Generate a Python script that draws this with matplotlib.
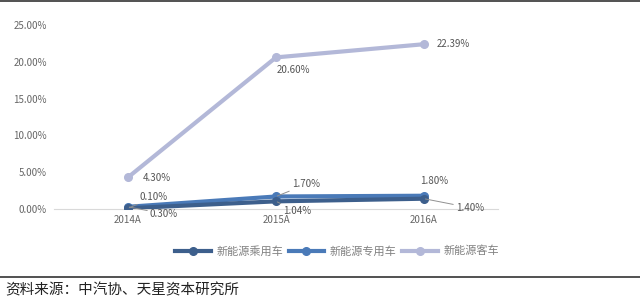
import matplotlib
matplotlib.use("Agg")
import matplotlib.pyplot as plt
from matplotlib.ticker import FuncFormatter
from matplotlib.lines import Line2D

plt.rcParams['font.family'] = ['Noto Sans CJK SC', 'DejaVu Sans']

categories = ["2014A", "2015A", "2016A"]
series_names = ["新能源乘用车", "新能源专用车", "新能源客车"]
passenger = [0.10, 1.04, 1.40]
special = [0.30, 1.70, 1.80]
bus = [4.30, 20.60, 22.39]
y_ticks = [0, 5, 10, 15, 20, 25]

colors = ["#3d5f8c", "#4a7ab8", "#b3b8d8"]

W, H = 640, 299
fig = plt.figure(figsize=(W / 100, H / 100), dpi=100)
ax = fig.add_axes([54 / W, 1 - 209 / H, (498 - 54) / W, (209 - 25) / H])

x = list(range(len(categories)))
for vals, c in [(bus, colors[2]), (special, colors[1]), (passenger, colors[0])]:
    ax.plot(x, vals, color=c, lw=3, marker='o', ms=5.5, solid_capstyle='round', zorder=3)

ax.set_xlim(-0.5, 2.5)
ax.set_ylim(0, 25)
ax.set_yticks(y_ticks)
ax.yaxis.set_major_formatter(FuncFormatter(lambda v, p: f"{v:.2f}%"))
ax.set_xticks(x)
ax.set_xticklabels(categories)
ax.tick_params(axis='y', length=0, labelsize=7, colors='#666666', pad=5)
ax.tick_params(axis='x', length=0, labelsize=7, colors='#666666', pad=4)
for s in ['top', 'right', 'left']:
    ax.spines[s].set_visible(False)
ax.spines['bottom'].set_color('#d9d9d9')
ax.spines['bottom'].set_linewidth(0.8)
ax.patch.set_alpha(0)

txt_kw = dict(fontsize=7, color='#555555', textcoords='offset pixels', va='center', ha='left')
lab_kw = dict(txt_kw, arrowprops=dict(arrowstyle='-', color='#909090', lw=0.7, shrinkA=0, shrinkB=1))

def fmt(v):
    return f"{v:.2f}%"

ax.annotate(fmt(bus[0]), (0, bus[0]), xytext=(15, -1), **txt_kw)
ax.annotate(fmt(bus[1]), (1, bus[1]), xytext=(1, -13), **txt_kw)
ax.annotate(fmt(bus[2]), (2, bus[2]), xytext=(13, 0), **txt_kw)
ax.annotate(fmt(passenger[0]), (0, passenger[0]), xytext=(12, 11), **lab_kw)
ax.annotate(fmt(special[0]), (0, special[0]), xytext=(22, -7), **lab_kw)
ax.annotate(fmt(special[1]), (1, special[1]), xytext=(16, 12), **lab_kw)
ax.annotate(fmt(passenger[1]), (1, passenger[1]), xytext=(7, -10), **lab_kw)
ax.annotate(fmt(special[2]), (2, special[2]), xytext=(-4, 15), **txt_kw)
ax.annotate(fmt(passenger[2]), (2, passenger[2]), xytext=(32, -9), **lab_kw)

handles = [Line2D([0], [0], color=c, lw=3, marker='o', ms=5.5) for c in colors]
fig.legend(handles, series_names, loc='center', bbox_to_anchor=(337 / W, 1 - 251 / H),
           ncol=3, frameon=False, fontsize=8, labelcolor='#808080', handlelength=3.2,
           columnspacing=0.5, handletextpad=0.5)

fig.add_artist(Line2D([0, 1], [1 - 1 / H, 1 - 1 / H], color='#333333', lw=1.2, transform=fig.transFigure))
fig.add_artist(Line2D([0, 1], [1 - 277 / H, 1 - 277 / H], color='#333333', lw=1.2, transform=fig.transFigure))
fig.text(5 / W, 1 - 290 / H, "资料来源：中汽协、天星资本研究所", fontsize=10.5, color='#222222', va='center', ha='left')

fig.savefig("out.png", dpi=100, facecolor='white')
